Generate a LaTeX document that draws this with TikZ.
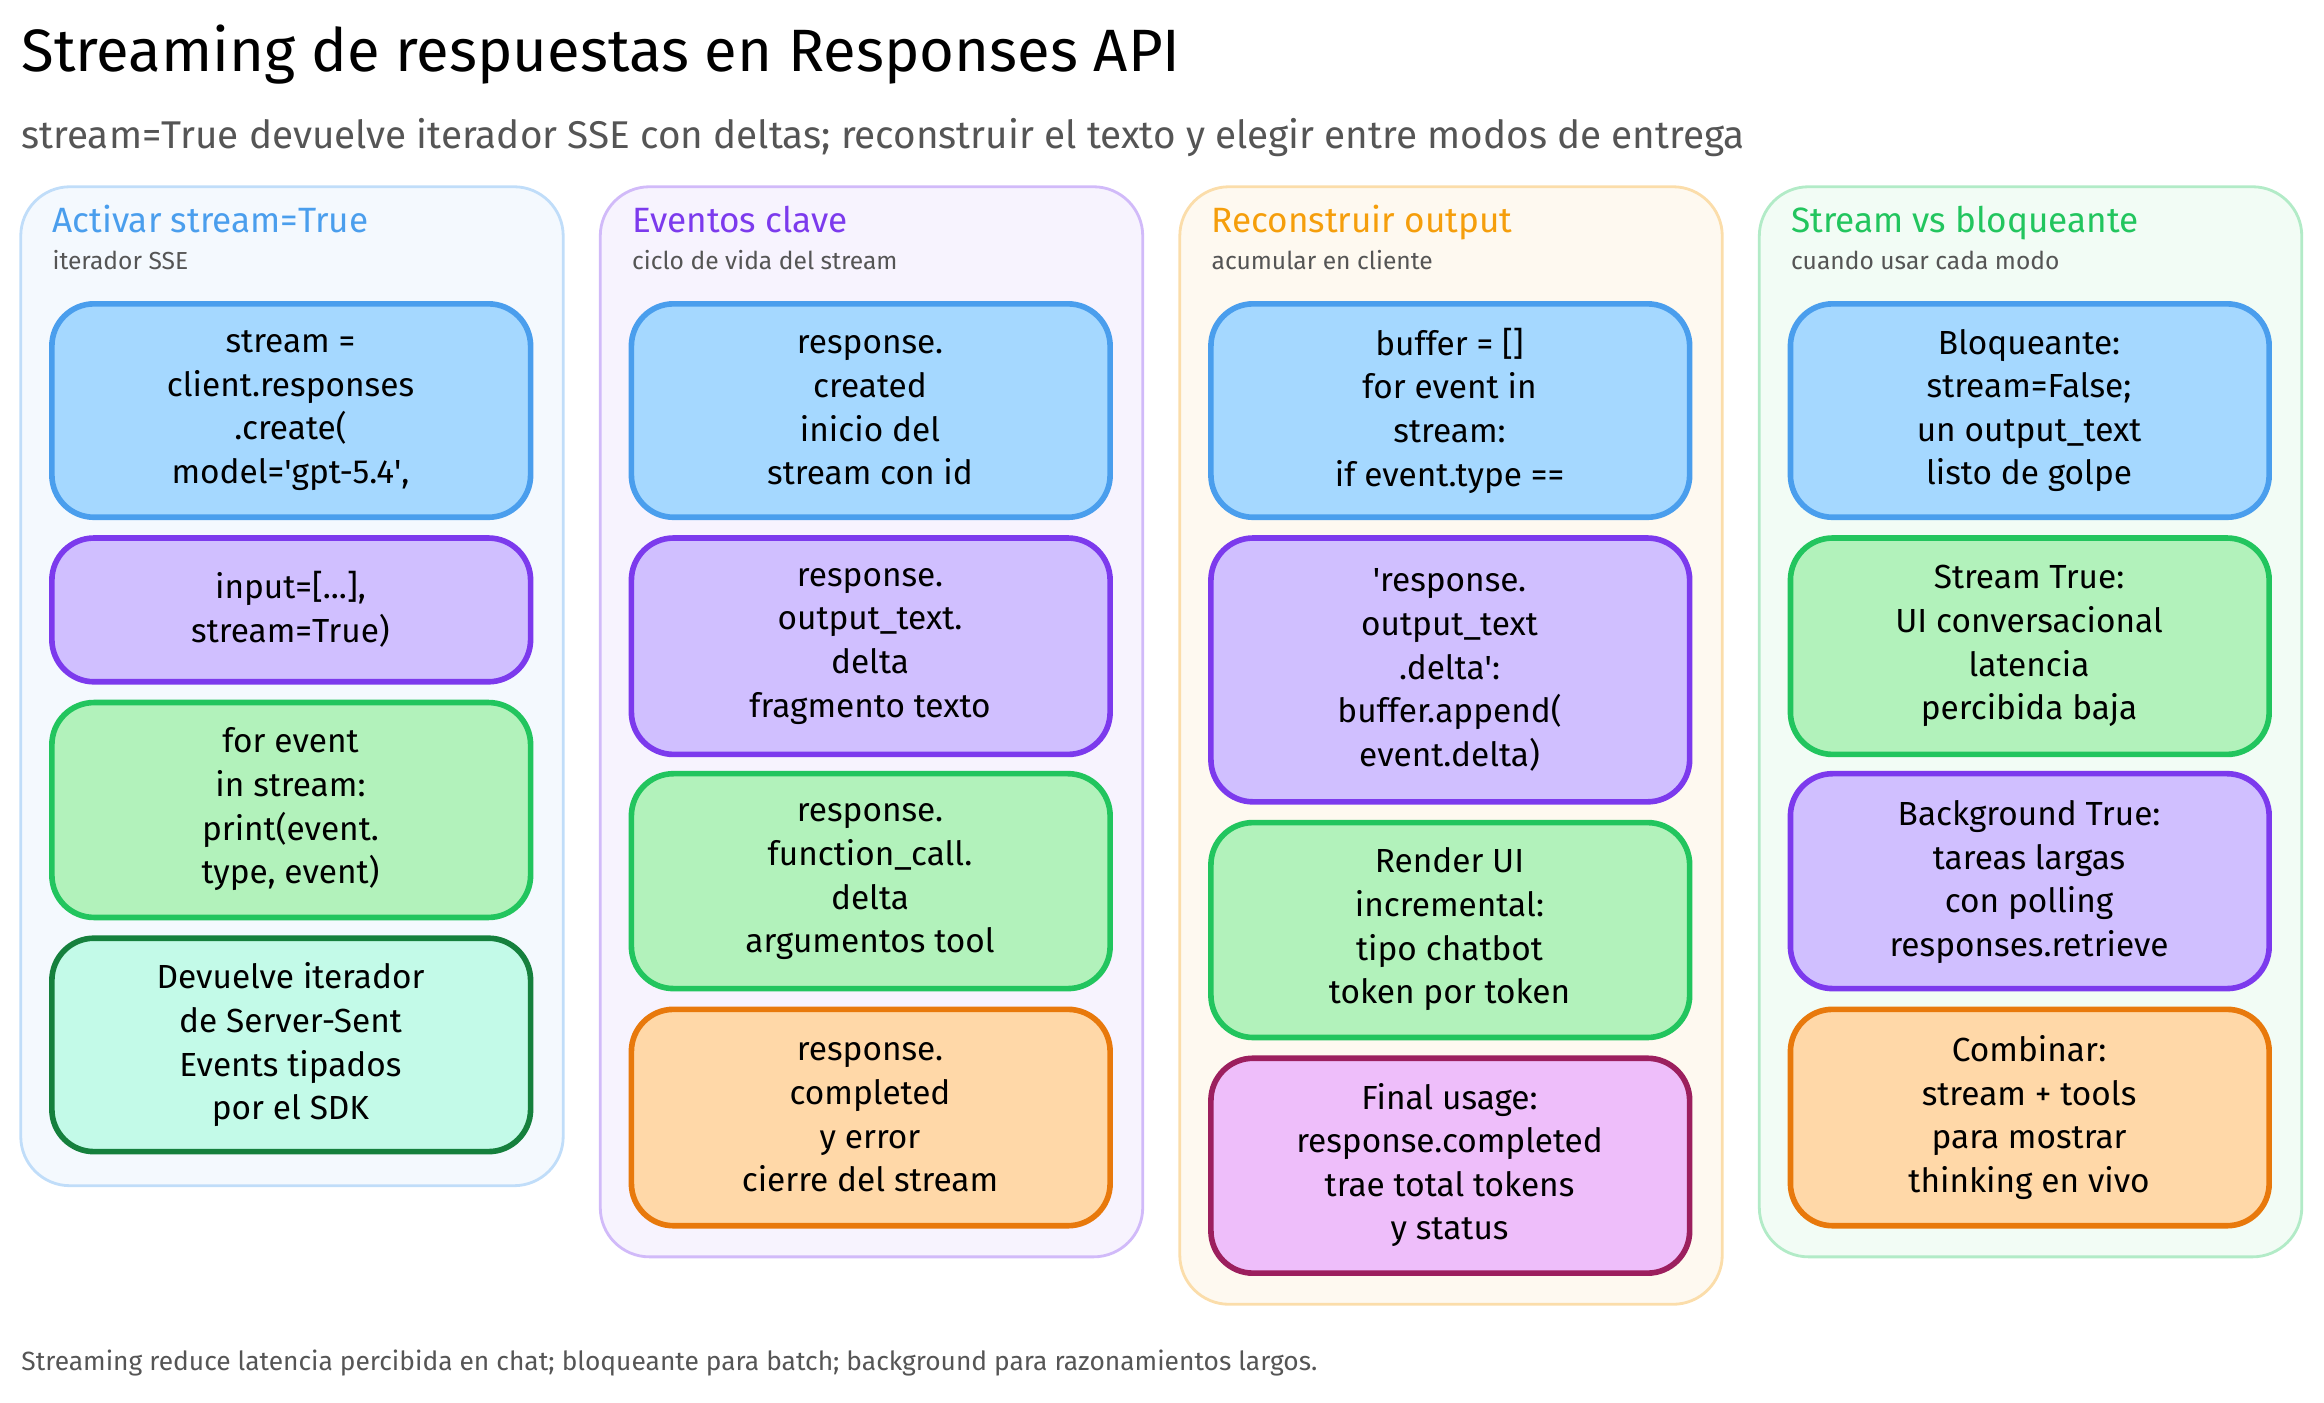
\documentclass[tikz,border=0pt]{standalone}
\usepackage{fontspec}
\setmainfont{Fira Sans}
\usetikzlibrary{positioning}
\definecolor{bluef}{HTML}{A5D8FF}\definecolor{blued}{HTML}{4A9EED}
\definecolor{purf}{HTML}{D0BFFF}\definecolor{purd}{HTML}{7C3AED}
\definecolor{grnf}{HTML}{B2F2BB}\definecolor{grnd}{HTML}{22C55E}
\definecolor{tealf}{HTML}{C3FAE8}\definecolor{teald}{HTML}{15803D}
\definecolor{orgf}{HTML}{FFD8A8}\definecolor{orgd}{HTML}{E8790C}
\definecolor{pinkf}{HTML}{EEBEFA}\definecolor{pinkd}{HTML}{9C1F5E}
\definecolor{yeld}{HTML}{F59E0B}
\definecolor{greytxt}{HTML}{555555}
\newcommand{\sq}{\textquotesingle}
\begin{document}
\begin{tikzpicture}[x=0.01482cm,y=-0.01482cm]
  \tikzset{
    panel/.style={draw=#1!35, fill=#1!6, line width=0.8pt, rounded corners=14pt},
    card/.style 2 args={draw=#2, fill=#1, line width=1.6pt, rounded corners=12pt},
    cardtext/.style={align=center, font=\fontsize{9.5}{12.4}\selectfont, text=black},
    head/.style={anchor=base west, inner sep=0pt, font=\fontsize{10}{12}\selectfont},
    sub/.style={anchor=base west, inner sep=0pt, font=\fontsize{7}{9}\selectfont, text=greytxt}
  }
  \useasboundingbox (0,0) rectangle (1568,946);
  % titles
  \node[anchor=base west, inner sep=0pt, font=\fontsize{17}{20}\selectfont] (title) at (14,48) {Streaming de respuestas en Responses API};
  \node[anchor=base west, inner sep=0pt, font=\fontsize{11}{13}\selectfont, text=greytxt] (subtitle) at (14,100)
    {stream=True devuelve iterador SSE con deltas; reconstruir el texto y elegir entre modos de entrega};
  % panels
  \draw[panel=blued] (14,126) rectangle (380,800);
  \draw[panel=purd] (405,126) rectangle (771,848);
  \draw[panel=yeld] (796,126) rectangle (1162,880);
  \draw[panel=grnd] (1187,126) rectangle (1553,848);
  \node[head, text=blued] (h1) at (35,157) {Activar stream=True};
  \node[sub] (s1) at (35,182) {iterador SSE};
  \node[head, text=purd] (h2) at (426,157) {Eventos clave};
  \node[sub] (s2) at (426,182) {ciclo de vida del stream};
  \node[head, text=yeld] (h3) at (817,157) {Reconstruir output};
  \node[sub] (s3) at (817,182) {acumular en cliente};
  \node[head, text=grnd] (h4) at (1208,157) {Stream vs bloqueante};
  \node[sub] (s4) at (1208,182) {cuando usar cada modo};
  % column 1
  \draw[card={bluef}{blued}] (35,205) rectangle (358,349);
  \node[cardtext] (a1) at (196,277) {stream =\\client.responses\\.create(\\model=\sq gpt-5.4\sq,};
  \draw[card={purf}{purd}] (35,363) rectangle (358,460);
  \node[cardtext] (a2) at (196,411) {input=[...],\\stream=True)};
  \draw[card={grnf}{grnd}] (35,474) rectangle (358,619);
  \node[cardtext] (a3) at (196,546) {for event\\in stream:\\print(event.\\type, event)};
  \draw[card={tealf}{teald}] (35,633) rectangle (358,777);
  \node[cardtext] (a4) at (196,705) {Devuelve iterador\\de Server-Sent\\Events tipados\\por el SDK};
  % column 2
  \draw[card={bluef}{blued}] (426,205) rectangle (749,349);
  \node[cardtext] (b1) at (587,277) {response.\\created\\inicio del\\stream con id};
  \draw[card={purf}{purd}] (426,363) rectangle (749,509);
  \node[cardtext] (b2) at (587,436) {response.\\output\_text.\\delta\\fragmento texto};
  \draw[card={grnf}{grnd}] (426,522) rectangle (749,667);
  \node[cardtext] (b3) at (587,595) {response.\\function\_call.\\delta\\argumentos tool};
  \draw[card={orgf}{orgd}] (426,681) rectangle (749,827);
  \node[cardtext] (b4) at (587,754) {response.\\completed\\y error\\cierre del stream};
  % column 3
  \draw[card={bluef}{blued}] (817,205) rectangle (1140,349);
  \node[cardtext] (c1) at (978,277) {buffer = []\\for event in\\stream:\\if event.type ==};
  \draw[card={purf}{purd}] (817,363) rectangle (1140,541);
  \node[cardtext] (c2) at (978,452) {\sq response.\\output\_text\\.delta\sq :\\buffer.append(\\event.delta)};
  \draw[card={grnf}{grnd}] (817,555) rectangle (1140,700);
  \node[cardtext] (c3) at (978,627) {Render UI\\incremental:\\tipo chatbot\\token por token};
  \draw[card={pinkf}{pinkd}] (817,714) rectangle (1140,859);
  \node[cardtext] (c4) at (978,786) {Final usage:\\response.completed\\trae total tokens\\y status};
  % column 4
  \draw[card={bluef}{blued}] (1208,205) rectangle (1531,349);
  \node[cardtext] (d1) at (1369,277) {Bloqueante:\\stream=False;\\un output\_text\\listo de golpe};
  \draw[card={grnf}{grnd}] (1208,363) rectangle (1531,509);
  \node[cardtext] (d2) at (1369,436) {Stream True:\\UI conversacional\\latencia\\percibida baja};
  \draw[card={purf}{purd}] (1208,522) rectangle (1531,667);
  \node[cardtext] (d3) at (1369,595) {Background True:\\tareas largas\\con polling\\responses.retrieve};
  \draw[card={orgf}{orgd}] (1208,681) rectangle (1531,827);
  \node[cardtext] (d4) at (1369,754) {Combinar:\\stream + tools\\para mostrar\\thinking en vivo};
  % footer
  \node[anchor=base west, inner sep=0pt, font=\fontsize{7.5}{9}\selectfont, text=greytxt] (foot) at (14,925)
    {Streaming reduce latencia percibida en chat; bloqueante para batch; background para razonamientos largos.};
\end{tikzpicture}
\end{document}
